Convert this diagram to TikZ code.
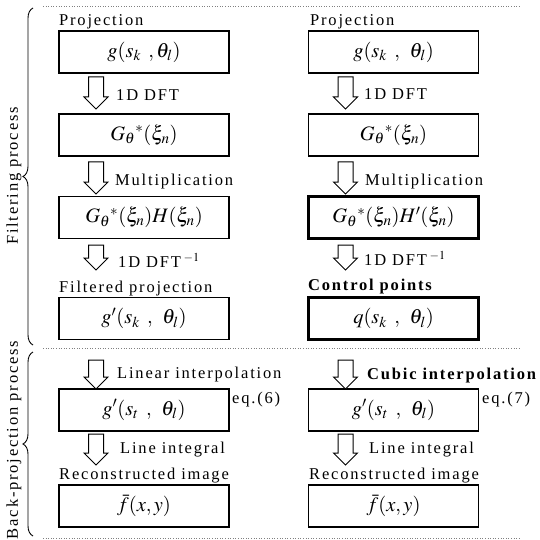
\documentclass[tikz,border=0pt]{standalone}
\usepackage{mathptmx}
\usepackage[no-math]{fontspec}
\setmainfont{Liberation Serif}[LetterSpace=11]
\usetikzlibrary{decorations.pathreplacing}
\tikzset{
  boite/.style={draw,line width=1.1pt,minimum width=170pt,minimum height=42pt,inner sep=0pt,font=\fontsize{20.5}{22}\selectfont},
  boitegrasse/.style={boite,line width=2.6pt},
  pics/fleche/.style={code={%fleche creuse vers le bas, #1 = longueur
    \draw[line width=1pt,fill=white] (-7.5,0) -- (-7.5,#1-12) -- (-12,#1-12) -- (0,#1) -- (12,#1-12) -- (7.5,#1-12) -- (7.5,0) -- cycle;}},
  etiquette/.style={anchor=base west,inner sep=0pt,font=\fontsize{16.5}{18}\selectfont},
  pointille/.style={gray,dotted,line width=0.6pt},
  accolade/.style={decorate,decoration={brace,amplitude=10pt},line width=0.9pt}
}
\begin{document}
\begin{tikzpicture}[x=1pt,y=-1pt]
\useasboundingbox (0,0) rectangle (539,540);
\def\xg{144}\def\xd{393.5}%colonnes des boites
\def\fg{96}\def\fd{345.5}%colonnes des fleches
%separations
\draw[pointille] (43,6) -- (520,6);
\draw[pointille] (43,348) -- (520,348);
\draw[pointille] (43,538) -- (520,538);
%accolades
\draw[accolade] (33,345) -- (33,8);
\draw[accolade] (33,536) -- (33,352);
\node[rotate=90,font=\fontsize{16.5}{18}\selectfont] (filtrage) at (14,176) {Filtering process};
\node[rotate=90,font=\fontsize{16.5}{18}\selectfont] (retro) at (14,440) {Back-projection process};
%colonne gauche
\node[boite] (g1) at (\xg,52) {$g(s_k\ ,\theta_l)$};
\node[boite] (g2) at (\xg,135) {$G_\theta{}^*(\xi_n)$};
\node[boite] (g3) at (\xg,217.5) {$G_\theta{}^*(\xi_n)H(\xi_n)$};
\node[boite] (g4) at (\xg,318.5) {$g'(s_k\ ,\ \theta_l)$};
\node[boite] (g5) at (\xg,410) {$g'(s_t\ ,\ \theta_l)$};
\node[boite] (g6) at (\xg,506) {$\bar{f}(x,y)$};
\pic (fg1) at (\fg,77) {fleche=32};
\pic (fg2) at (\fg,162) {fleche=32};
\pic (fg3) at (\fg,245) {fleche=25};
\pic (fg4) at (\fg,360) {fleche=29};
\pic (fg5) at (\fg,434) {fleche=31};
\node[etiquette] (tg1) at (59,26) {Projection};
\node[etiquette] (tg2) at (116,101) {1D DFT};
\node[etiquette] (tg3) at (115,185) {Multiplication};
\node[etiquette] (tg4) at (118,267) {1D DFT\,$^{-1}$};
\node[etiquette] (tg5) at (59,292) {Filtered projection};
\node[etiquette] (tg6) at (117,378) {Linear interpolation};
\node[etiquette] (tg7) at (232,403) {eq.(6)};
\node[etiquette] (tg8) at (120,453) {Line integral};
\node[etiquette] (tg9) at (59,479) {Reconstructed image};
%colonne droite
\node[boite] (d1) at (\xd,52) {$g(s_k\ ,\ \theta_l)$};
\node[boite] (d2) at (\xd,135) {$G_\theta{}^*(\xi_n)$};
\node[boitegrasse] (d3) at (\xd,217.5) {$G_\theta{}^*(\xi_n)H'(\xi_n)$};
\node[boitegrasse] (d4) at (\xd,318.5) {$q(s_k\ ,\ \theta_l)$};
\node[boite] (d5) at (\xd,410) {$g'(s_t\ ,\ \theta_l)$};
\node[boite] (d6) at (\xd,506) {$\bar{f}(x,y)$};
\pic (fd1) at (\fd,77) {fleche=32};
\pic (fd2) at (\fd,162) {fleche=32};
\pic (fd3) at (\fd,245) {fleche=25};
\pic (fd4) at (\fd,360) {fleche=29};
\pic (fd5) at (\fd,434) {fleche=31};
\node[etiquette] (td1) at (310,26) {Projection};
\node[etiquette] (td2) at (364,100) {1D DFT};
\node[etiquette] (td3) at (365,185) {Multiplication};
\node[etiquette] (td4) at (364,265) {1D DFT\,$^{-1}$};
\node[etiquette] (td5) at (308,290) {\textbf{Control points}};
\node[etiquette] (td6) at (367,379) {\textbf{Cubic interpolation}};
\node[etiquette] (td7) at (482,403) {eq.(7)};
\node[etiquette] (td8) at (369,453) {Line integral};
\node[etiquette] (td9) at (309,479) {Reconstructed image};
\end{tikzpicture}
\end{document}
